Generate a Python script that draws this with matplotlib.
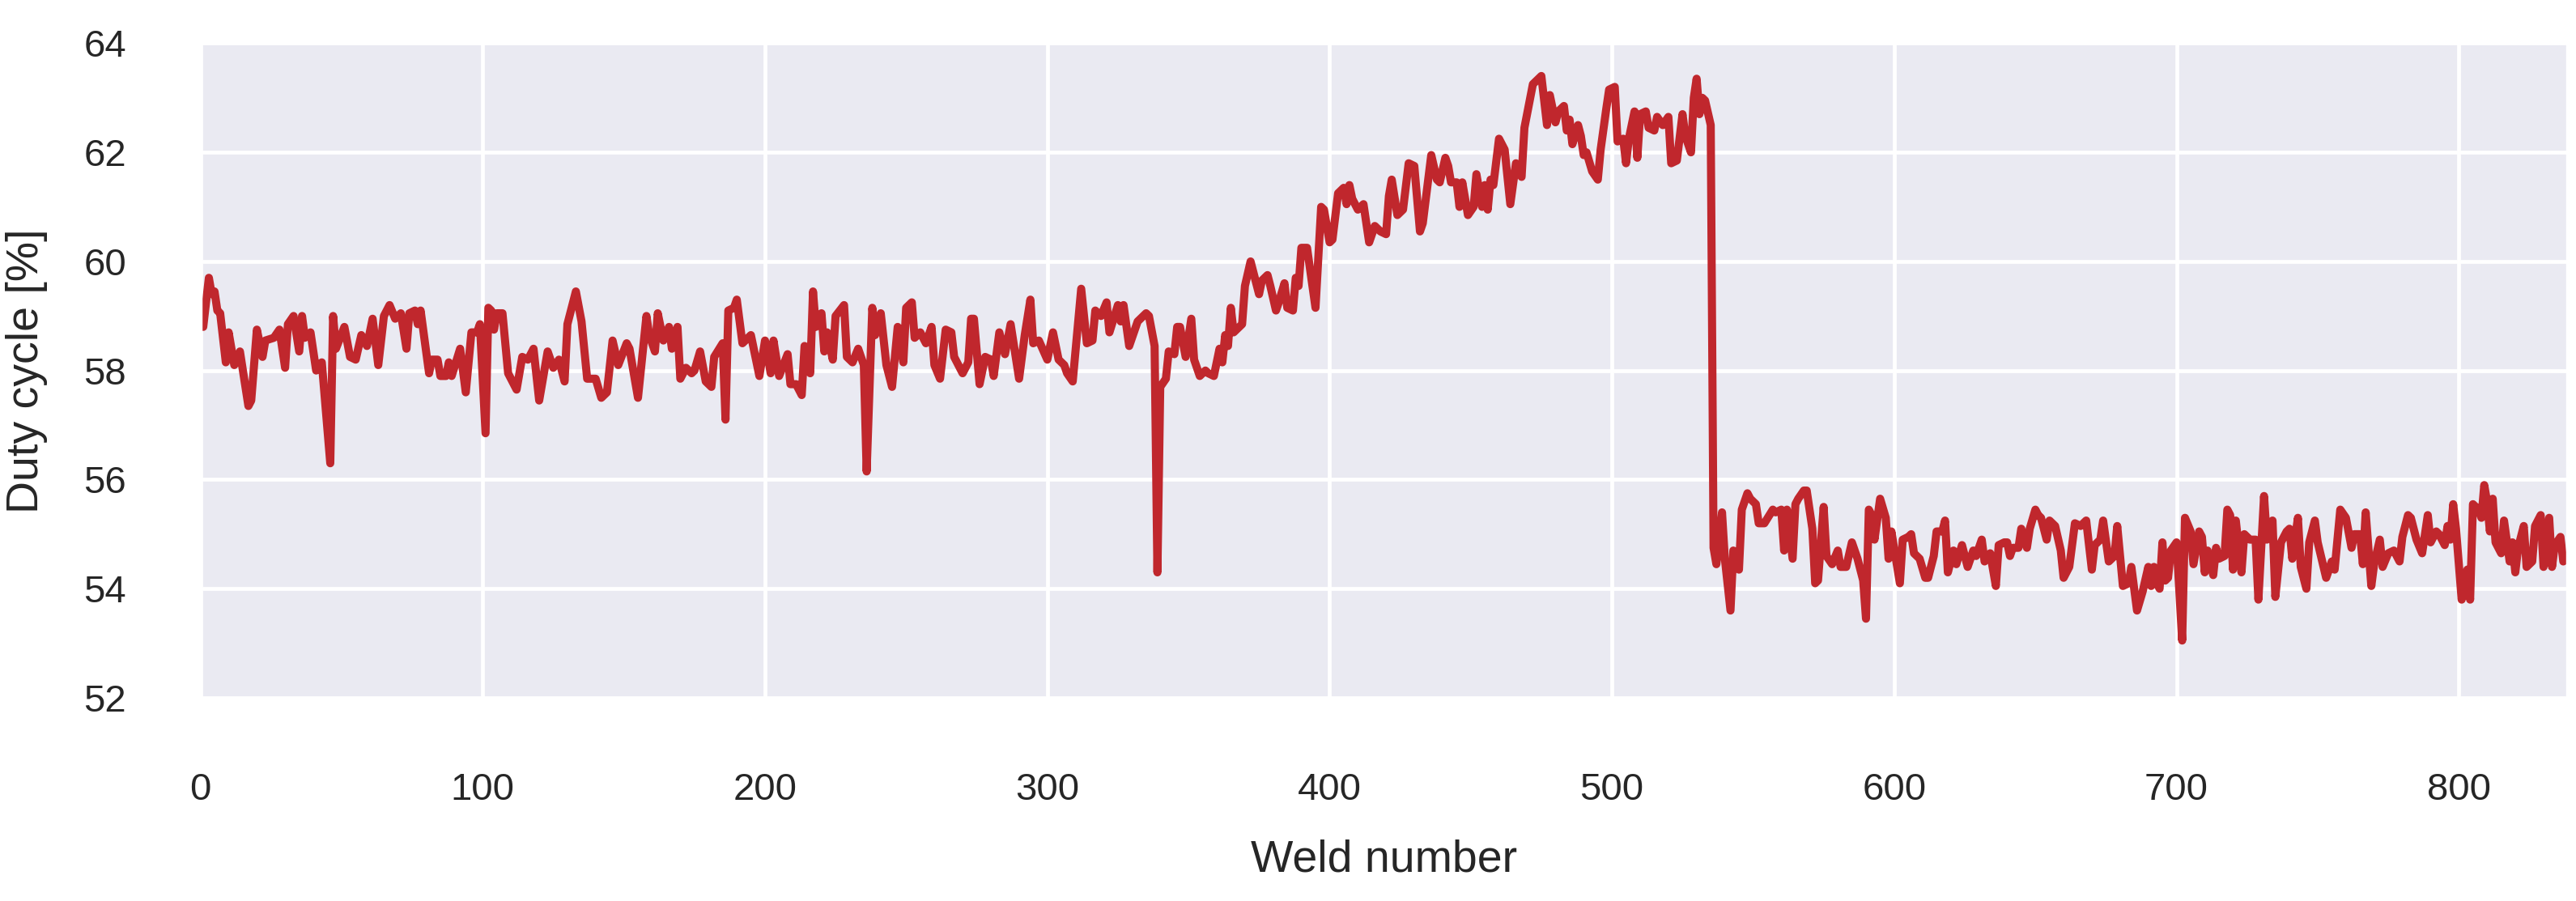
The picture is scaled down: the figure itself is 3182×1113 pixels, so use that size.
import matplotlib
matplotlib.use("Agg")
import matplotlib.pyplot as plt
import seaborn as sns

# (weld number, duty cycle %)
before_drift = [
    (1, 58.8), (3, 59.7), (4, 59.4), (5, 59.45), (6, 59.1), (7, 59.05), (9, 58.15),
    (10, 58.7), (12, 58.1), (14, 58.35), (17, 57.35), (18, 57.45), (20, 58.75),
    (22, 58.25), (23, 58.55), (26, 58.6), (28, 58.75), (30, 58.05), (31, 58.85),
    (33, 59.0), (35, 58.35), (36, 59.0), (37, 58.6), (39, 58.7), (41, 58.0),
    (43, 58.15), (46, 56.3), (47, 59.0), (48, 58.4), (51, 58.8), (53, 58.25),
    (55, 58.2), (57, 58.65), (59, 58.45), (61, 58.95), (63, 58.1), (65, 59.0),
    (67, 59.2), (69, 58.95), (70, 59.0), (71, 59.05), (73, 58.4), (74, 59.05),
    (76, 59.1), (77, 58.85), (78, 59.1), (81, 57.95), (82, 58.2), (84, 58.2),
    (85, 57.9), (87, 57.9), (88, 58.15), (89, 57.9), (92, 58.4), (94, 57.6),
    (96, 58.7), (98, 58.7), (99, 58.85), (101, 56.85), (102, 59.15), (103, 59.1),
    (104, 58.75), (105, 59.05), (107, 59.05), (109, 57.95), (112, 57.65),
    (114, 58.25), (116, 58.2), (118, 58.4), (120, 57.45), (123, 58.35),
    (125, 58.05), (127, 58.2), (129, 57.8), (130, 58.85), (133, 59.45),
    (135, 58.9), (137, 57.85), (140, 57.85), (142, 57.5), (144, 57.6),
    (146, 58.55), (148, 58.1), (151, 58.5), (152, 58.4), (155, 57.5), (158, 59.0),
    (159, 58.65), (161, 58.35), (162, 59.05), (164, 58.55), (166, 58.8),
    (167, 58.4), (169, 58.8), (170, 57.85), (172, 58.05), (174, 57.95),
    (175, 58.0), (177, 58.35), (179, 57.8), (181, 57.7), (182, 58.25),
    (185, 58.5), (186, 57.1), (187, 59.1), (189, 59.15), (190, 59.3),
    (192, 58.5), (195, 58.65), (198, 57.9), (200, 58.55), (202, 57.95),
    (203, 58.55), (205, 57.9), (208, 58.3), (209, 57.75), (211, 57.75),
    (213, 57.55), (214, 58.45), (216, 57.95), (217, 59.45), (218, 58.8),
    (220, 59.05), (221, 58.35), (222, 58.7), (224, 58.2), (225, 59.0),
    (228, 59.2), (229, 58.25), (231, 58.15), (233, 58.4), (235, 58.1),
    (236, 56.15), (238, 59.15), (239, 58.65), (241, 59.05), (243, 58.1),
    (245, 57.7), (247, 58.8), (249, 58.15), (250, 59.15), (252, 59.25),
    (253, 58.6), (255, 58.7), (257, 58.5), (259, 58.8), (260, 58.1),
    (262, 57.85), (264, 58.75), (266, 58.7), (267, 58.25), (270, 57.95),
    (272, 58.15), (273, 58.95), (274, 58.95), (276, 57.75), (278, 58.25),
    (280, 58.2), (281, 57.9), (283, 58.7), (285, 58.3), (287, 58.85),
    (290, 57.85), (292, 58.65), (294, 59.3), (295, 58.5), (297, 58.55),
    (300, 58.2), (302, 58.7), (304, 58.2), (306, 58.1), (307, 57.95),
    (309, 57.8), (312, 59.5), (314, 58.5), (316, 58.55), (317, 59.1),
    (319, 59.0), (321, 59.25), (322, 58.7), (325, 59.2), (326, 58.9),
    (327, 59.2), (329, 58.45), (332, 58.9), (335, 59.05), (336, 59.0),
    (338, 58.45), (339, 54.3), (340, 57.7), (342, 57.85), (343, 58.35),
    (345, 58.3), (346, 58.8), (347, 58.8), (349, 58.25), (351, 58.95),
    (352, 58.2), (354, 57.9), (356, 58.0), (357, 57.95), (359, 57.9),
]

drift = [
    (361, 58.4), (362, 58.15), (363, 58.65), (364, 58.45), (365, 59.15),
    (366, 58.7), (369, 58.85), (370, 59.55), (372, 60.0), (373, 59.8),
    (375, 59.4), (376, 59.65), (378, 59.75), (379, 59.55), (381, 59.1),
    (382, 59.25), (384, 59.6), (385, 59.15), (387, 59.1), (388, 59.7),
    (389, 59.55), (390, 60.25), (392, 60.25), (395, 59.15), (397, 61.0),
    (398, 60.95), (400, 60.35), (401, 60.4), (403, 61.25), (405, 61.35),
    (406, 61.05), (407, 61.4), (408, 61.15), (410, 60.95), (412, 61.05),
    (414, 60.35), (416, 60.65), (418, 60.55), (420, 60.5), (421, 61.2),
    (422, 61.5), (424, 60.85), (426, 60.95), (428, 61.8), (430, 61.75),
    (432, 60.55), (433, 60.7), (436, 61.95), (438, 61.5), (439, 61.45),
    (441, 61.9), (442, 61.75), (443, 61.45), (445, 61.45), (446, 61.0),
    (447, 61.45), (449, 60.85), (451, 61.0), (452, 61.6), (454, 61.0),
    (455, 61.4), (456, 60.95), (457, 61.5), (458, 61.4), (460, 62.25),
    (462, 62.05), (464, 61.05), (466, 61.8), (468, 61.55), (469, 62.45),
    (472, 63.25), (475, 63.4), (477, 62.5), (478, 63.05), (480, 62.55),
    (481, 62.75), (483, 62.85), (484, 62.4), (485, 62.6), (486, 62.15),
    (488, 62.5), (489, 62.3), (490, 61.95), (491, 62.0), (493, 61.65),
    (495, 61.5), (496, 62.05), (498, 62.8), (499, 63.15), (501, 63.2),
    (502, 62.2), (504, 62.25), (505, 61.8), (506, 62.25), (508, 62.75),
    (509, 61.9), (510, 62.7), (512, 62.75), (513, 62.45), (515, 62.4),
    (516, 62.65), (518, 62.5), (520, 62.65), (521, 61.8), (523, 61.85),
    (525, 62.7), (526, 62.3), (528, 62.0), (529, 63.0), (530, 63.35),
    (531, 62.7), (532, 63.0), (533, 62.95), (535, 62.5),
]

after_drop = [
    (536, 54.75), (537, 54.45), (539, 55.4), (540, 54.55), (542, 53.6),
    (543, 54.7), (545, 54.35), (546, 55.45), (548, 55.75), (549, 55.65),
    (551, 55.55), (552, 55.2), (554, 55.2), (557, 55.45), (558, 55.4),
    (560, 55.45), (561, 54.7), (562, 55.45), (564, 54.55), (565, 55.55),
    (566, 55.65), (568, 55.8), (569, 55.8), (571, 55.1), (572, 54.1),
    (573, 54.15), (575, 55.5), (576, 54.6), (578, 54.45), (580, 54.7),
    (581, 54.4), (583, 54.4), (585, 54.85), (587, 54.55), (589, 54.15),
    (590, 53.45), (591, 55.45), (592, 55.35), (593, 54.9), (595, 55.65),
    (597, 55.3), (598, 54.55), (599, 55.05), (602, 54.1), (603, 54.9),
    (605, 54.95), (606, 55.0), (607, 54.65), (609, 54.55), (611, 54.2),
    (612, 54.2), (614, 54.6), (615, 55.05), (617, 55.05), (618, 55.25),
    (619, 54.3), (621, 54.7), (622, 54.45), (624, 54.8), (626, 54.4),
    (628, 54.7), (629, 54.6), (631, 54.9), (632, 54.5), (634, 54.65),
    (636, 54.05), (637, 54.8), (639, 54.85), (640, 54.85), (641, 54.6),
    (642, 54.75), (644, 54.75), (645, 55.1), (647, 54.75), (648, 55.1),
    (650, 55.45), (651, 55.35), (652, 55.3), (654, 54.9), (655, 55.25),
    (657, 55.15), (659, 54.7), (660, 54.2), (662, 54.4), (664, 55.2),
    (666, 55.15), (668, 55.25), (670, 54.35), (671, 54.8), (673, 54.9),
    (674, 55.25), (676, 54.5), (678, 54.6), (679, 55.15), (681, 54.05),
    (683, 54.1), (684, 54.4), (686, 53.6), (688, 53.95), (690, 54.4),
    (691, 54.05), (692, 54.4), (693, 54.1), (694, 54.0), (695, 54.85),
    (696, 54.15), (697, 54.2), (698, 54.7), (700, 54.85), (702, 53.05),
    (703, 55.3), (705, 55.05), (706, 54.45), (708, 55.05), (709, 54.95),
    (710, 54.3), (711, 54.7), (713, 54.25), (714, 54.75), (715, 54.55),
    (717, 54.6), (718, 55.45), (719, 55.35), (720, 54.35), (721, 55.25),
    (723, 54.3), (724, 55.0), (726, 54.9), (728, 54.9), (729, 53.8),
    (731, 55.7), (732, 54.9), (734, 55.25), (735, 53.85), (737, 54.85),
    (739, 55.05), (740, 55.1), (741, 54.55), (743, 55.3), (744, 54.4),
    (746, 54.0), (747, 54.85), (749, 55.25), (750, 54.85), (753, 54.2),
    (755, 54.5), (756, 54.35), (758, 55.45), (760, 55.3), (762, 54.75),
    (763, 55.0), (765, 55.0), (766, 54.45), (767, 55.4), (769, 54.05),
    (770, 54.45), (772, 54.9), (773, 54.4), (775, 54.65), (777, 54.7),
    (779, 54.5), (780, 54.95), (782, 55.35), (783, 55.3), (785, 54.9),
    (787, 54.65), (789, 55.35), (790, 54.85), (792, 55.05), (793, 55.0),
    (795, 54.8), (796, 55.15), (797, 54.9), (798, 55.55), (799, 55.1),
    (801, 53.8), (803, 54.35), (804, 53.8), (805, 55.55), (807, 55.45),
    (808, 55.3), (809, 55.9), (810, 55.6), (811, 55.05), (812, 55.65),
    (813, 54.85), (815, 54.65), (816, 55.25), (818, 54.5), (819, 54.85),
    (820, 54.3), (821, 54.75), (823, 55.15), (824, 54.4), (826, 54.5),
    (827, 55.15), (829, 55.35), (830, 54.4), (832, 55.3), (833, 54.4),
    (834, 54.8), (836, 54.95), (837, 54.5),
]

readings = before_drift + drift + after_drop
weld = [r[0] for r in readings]
duty = [r[1] for r in readings]

sns.set_theme(style="darkgrid")
plt.rcParams["font.family"] = ["Liberation Sans", "DejaVu Sans"]

fig = plt.figure(figsize=(15.91, 5.565), dpi=200)
ax = fig.add_axes([0.0778, 0.2255, 0.9188, 0.7265])
ax.plot(weld, duty, color="#c0272d", linewidth=3.6,
        solid_joinstyle="round", solid_capstyle="round")

ax.set_xlim(0, 838.4)
ax.set_ylim(52, 64)
ax.set_xticks(range(0, 801, 100))
ax.set_yticks(range(52, 65, 2))
ax.grid(color="white", linewidth=1.7)
ax.tick_params(axis="both", labelsize=17, pad=27, colors="#262626")
ax.set_xlabel("Weld number", fontsize=20, labelpad=14, color="#262626")
ax.set_ylabel("Duty cycle [%]", fontsize=20, labelpad=16, color="#262626")

fig.savefig("out.png", dpi=200)
